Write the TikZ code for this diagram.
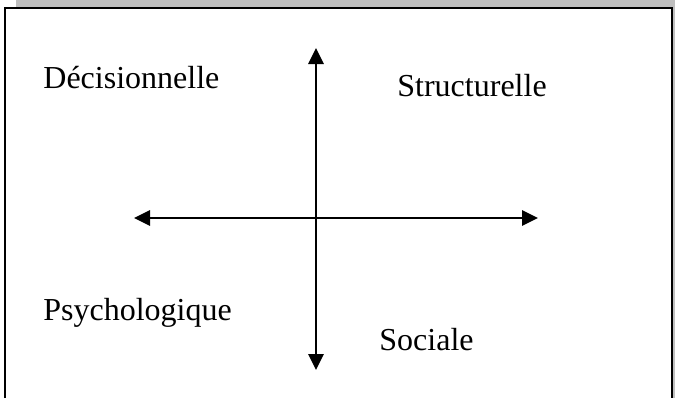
\documentclass[tikz,border=0pt]{standalone}
\usepackage{fontspec}
\setmainfont{Liberation Serif}
\usetikzlibrary{arrows.meta}
\tikzset{
  etiquette/.style={anchor=base west, inner sep=0pt, font=\fontsize{16}{19}\selectfont},
  axe/.style={line width=1.4pt, {Triangle[length=8pt,width=7.5pt]}-{Triangle[length=8pt,width=7.5pt]}}
}
\begin{document}
\begin{tikzpicture}[x=0.5pt, y=-0.5pt]
    \useasboundingbox (0,0) rectangle (675,398);
    % ombre grise
    \fill[black!25] (16,0) rectangle (675,8);
    \fill[black!25] (672,0) rectangle (675,398);
    % cadre
    \fill[white] (5,8) rectangle (672,398);
    \draw[line width=1.2pt] (5,398) -- (5,8) -- (672,8) -- (672,398);
    % axes
    \coordinate (haut) at (316,48);
    \coordinate (bas) at (316,370);
    \coordinate (gauche) at (134,218);
    \coordinate (droite) at (538,218);
    \draw[axe] (haut) -- (bas);
    \draw[axe] (gauche) -- (droite);
    % quadrants
    \node[etiquette] (dec) at (43,88) {Décisionnelle};
    \node[etiquette] (struct) at (397,96) {Structurelle};
    \node[etiquette] (psy) at (43,320) {Psychologique};
    \node[etiquette] (soc) at (379,350) {Sociale};
\end{tikzpicture}
\end{document}
